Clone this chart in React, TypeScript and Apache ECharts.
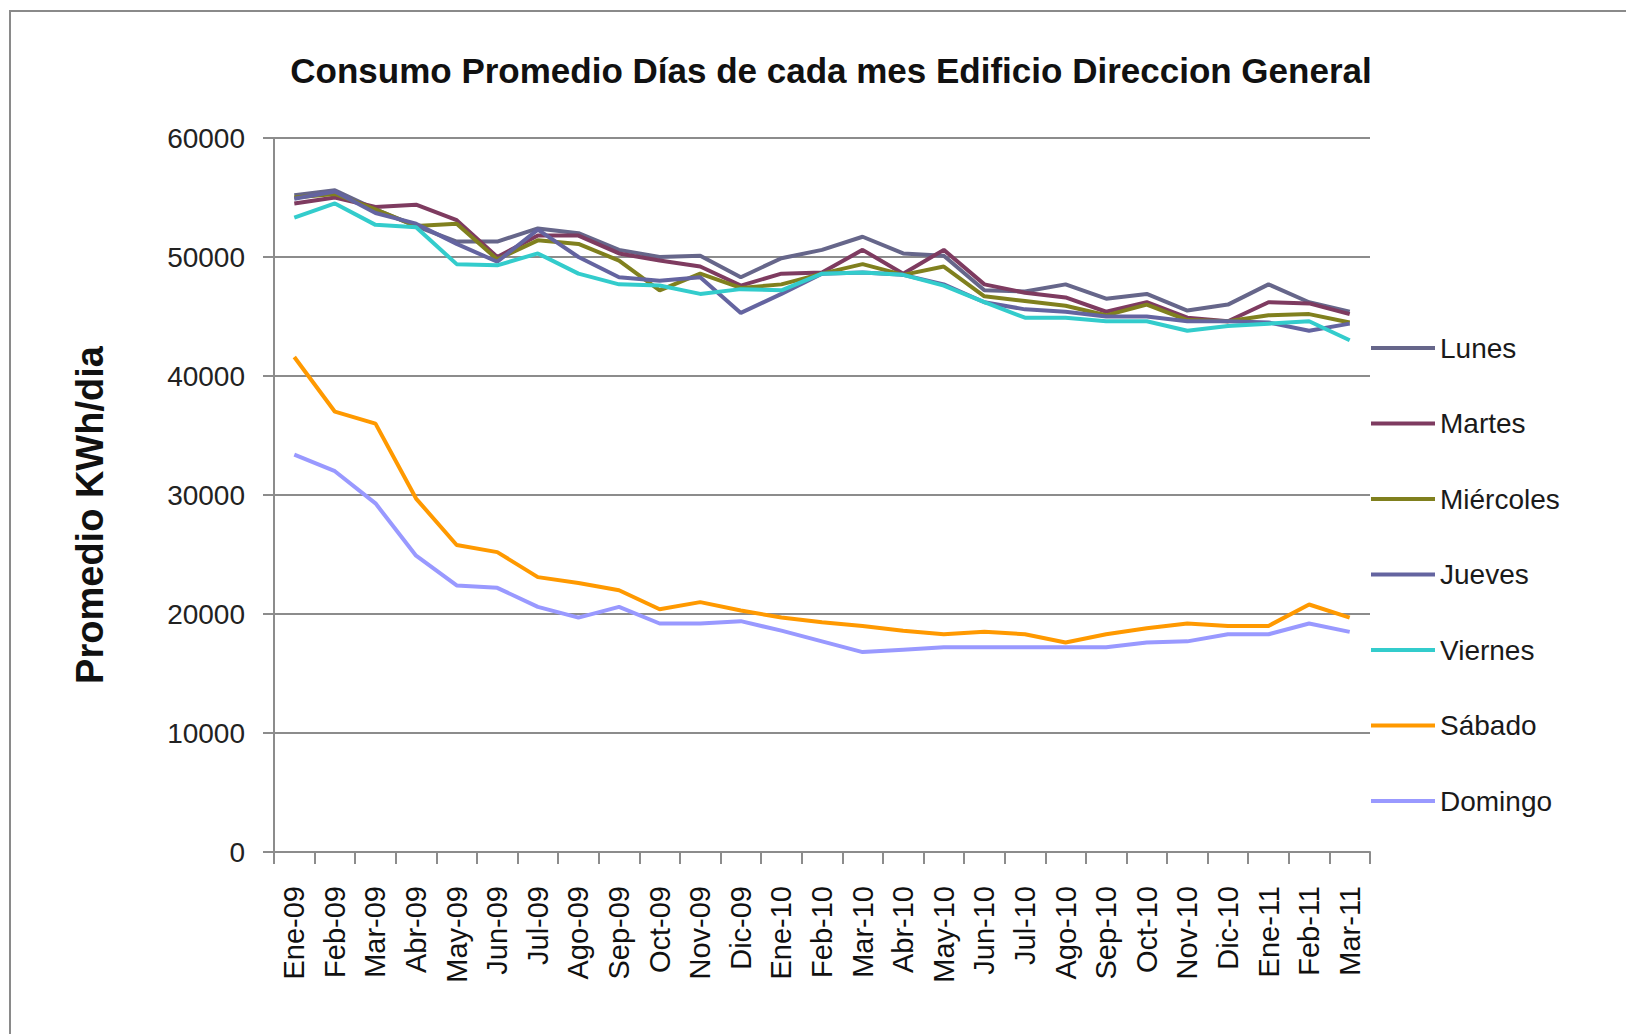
import React, { useEffect, useRef } from "react";
import * as echarts from "echarts";

const categories = [
  "Ene-09", "Feb-09", "Mar-09", "Abr-09", "May-09", "Jun-09", "Jul-09", "Ago-09", "Sep-09",
  "Oct-09", "Nov-09", "Dic-09", "Ene-10", "Feb-10", "Mar-10", "Abr-10", "May-10", "Jun-10",
  "Jul-10", "Ago-10", "Sep-10", "Oct-10", "Nov-10", "Dic-10", "Ene-11", "Feb-11", "Mar-11",
];

const lunes = [55200, 55600, 54000, 52600, 51300, 51300, 52400, 52000, 50600, 50000, 50100, 48300, 49900, 50600, 51700, 50300, 50100, 47200, 47100, 47700, 46500, 46900, 45500, 46000, 47700, 46200, 45400];
const martes = [54500, 55000, 54200, 54400, 53100, 50000, 51800, 51800, 50300, 49700, 49200, 47600, 48600, 48700, 50600, 48600, 50600, 47700, 47000, 46600, 45400, 46200, 44900, 44600, 46200, 46100, 45200];
const miercoles = [55000, 55300, 54000, 52600, 52800, 49800, 51400, 51100, 49700, 47200, 48600, 47400, 47700, 48600, 49400, 48500, 49200, 46700, 46300, 45900, 45100, 46000, 44700, 44600, 45100, 45200, 44500];
const jueves = [54900, 55500, 53700, 52800, 51100, 49600, 52300, 50000, 48300, 48000, 48300, 45300, 46900, 48600, 48700, 48500, 47700, 46200, 45600, 45400, 45000, 45000, 44600, 44600, 44500, 43800, 44400];
const viernes = [53300, 54500, 52700, 52500, 49400, 49300, 50300, 48600, 47700, 47600, 46900, 47300, 47200, 48600, 48700, 48500, 47600, 46200, 44900, 44900, 44600, 44600, 43800, 44200, 44400, 44600, 43000];
const sabado = [41600, 37000, 36000, 29700, 25800, 25200, 23100, 22600, 22000, 20400, 21000, 20300, 19700, 19300, 19000, 18600, 18300, 18500, 18300, 17600, 18300, 18800, 19200, 19000, 19000, 20800, 19700];
const domingo = [33400, 32000, 29300, 24900, 22400, 22200, 20600, 19700, 20600, 19200, 19200, 19400, 18600, 17700, 16800, 17000, 17200, 17200, 17200, 17200, 17200, 17600, 17700, 18300, 18300, 19200, 18500];

const seriesNames = ["Lunes", "Martes", "Miércoles", "Jueves", "Viernes", "Sábado", "Domingo"];
const seriesData = [lunes, martes, miercoles, jueves, viernes, sabado, domingo];
const seriesColors = ["#66668A", "#7E3B60", "#80801E", "#6464A0", "#33CCCC", "#FF9900", "#9999FF"];

const titleText = "Consumo Promedio Días de cada mes Edificio Direccion General";
const yAxisName = "Promedio KWh/dia";

export default function App() {
  const ref = useRef<HTMLDivElement>(null);
  useEffect(() => {
    if (!ref.current) return;
    const chart = echarts.init(ref.current, undefined, { renderer: "svg" });
    const font = "'Liberation Sans', Arial, sans-serif";
    chart.setOption({
      animation: false,
      backgroundColor: "#ffffff",
      textStyle: { fontFamily: font },
      title: {
        text: titleText,
        left: 826,
        textAlign: "center",
        top: 48,
        textStyle: { fontFamily: font, fontWeight: "bold", fontSize: 35, color: "#111111" },
      },
      graphic: [
        {
          type: "rect",
          shape: { x: 10, y: 11, width: 1640, height: 1100 },
          style: { fill: "none", stroke: "#8a8a8a", lineWidth: 2 },
          silent: true,
        },
        {
          type: "text",
          x: 90,
          y: 515,
          rotation: Math.PI / 2,
          style: {
            text: yAxisName,
            fontFamily: font,
            fontWeight: "bold",
            fontSize: 38,
            fill: "#111111",
            align: "center",
            verticalAlign: "middle",
          },
          silent: true,
        },
      ],
      legend: {
        orient: "vertical",
        left: 1371,
        top: 333,
        padding: 0,
        icon: "rect",
        itemWidth: 64,
        itemHeight: 4,
        itemGap: 45.5,
        data: seriesNames,
        textStyle: { fontFamily: font, fontSize: 28, color: "#1a1a1a", lineHeight: 30 },
      },
      grid: { left: 274, top: 138, width: 1096, height: 714, containLabel: false },
      xAxis: {
        type: "category",
        data: categories,
        boundaryGap: true,
        axisLine: { lineStyle: { color: "#8c8c8c", width: 2 } },
        axisTick: { show: true, length: 12, lineStyle: { color: "#8c8c8c", width: 2 } },
        axisLabel: {
          rotate: 90,
          interval: 0,
          margin: 34,
          fontFamily: font,
          fontSize: 29,
          color: "#111111",
        },
      },
      yAxis: {
        type: "value",
        min: 0,
        max: 60000,
        interval: 10000,
        axisLine: { show: true, lineStyle: { color: "#8c8c8c", width: 2 } },
        axisTick: { show: true, length: 11, lineStyle: { color: "#8c8c8c", width: 2 } },
        axisLabel: {
          margin: 29,
          fontFamily: font,
          fontSize: 28,
          color: "#222222",
          formatter: (v: number) => String(v),
        },
        splitLine: { show: true, lineStyle: { color: "#8c8c8c", width: 2 } },
      },
      series: seriesNames.map((name, i) => ({
        name,
        type: "line",
        data: seriesData[i],
        symbol: "none",
        lineStyle: { width: 4, color: seriesColors[i] },
        itemStyle: { color: seriesColors[i] },
      })),
    });
    return () => chart.dispose();
  }, []);
  return (
    <div
      ref={ref}
      style={{ position: "fixed", left: 0, top: 0, width: 1626, height: 1034, background: "#fff" }}
    />
  );
}
